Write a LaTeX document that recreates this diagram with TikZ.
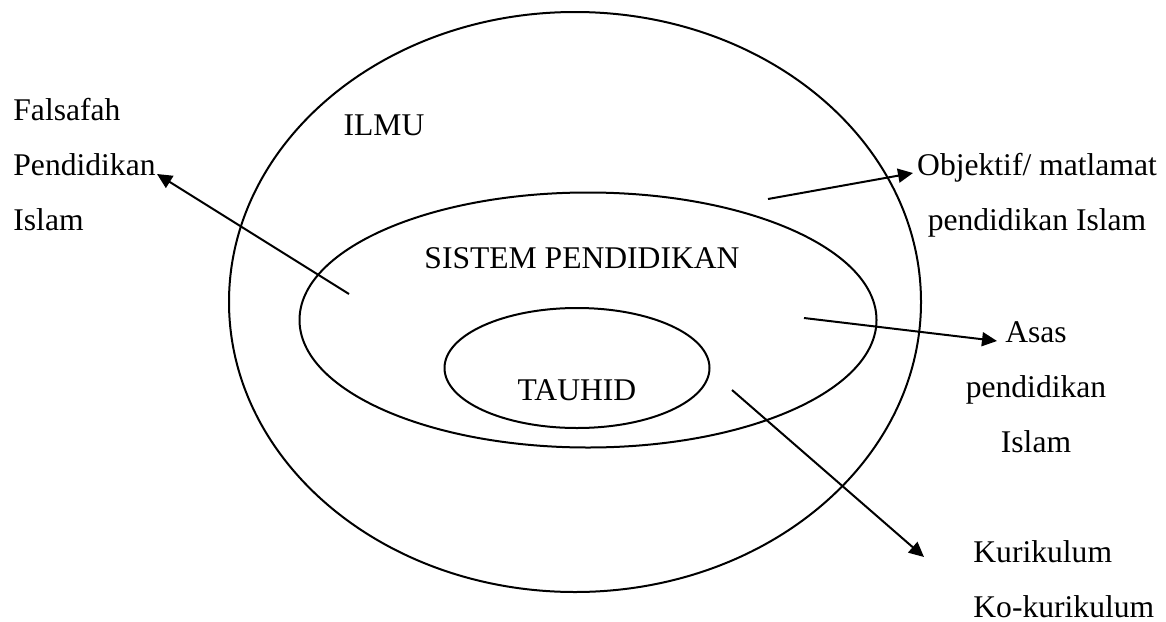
\documentclass[tikz,border=0pt]{standalone}
\usepackage{fontspec}
\setmainfont{Liberation Serif}
\usetikzlibrary{arrows.meta, positioning, shapes.geometric}

\begin{document}
\begin{tikzpicture}
    [x=0.5pt, y=-0.5pt,
     ring/.style={draw, ellipse, line width=1pt, inner sep=0pt},
     word/.style={inner sep=0pt, font=\fontsize{15.8}{27.5}\selectfont},
     pointer/.style={draw, line width=1pt, -{Triangle[length=7.5pt, width=7pt]}}]
    \useasboundingbox (0,0) rectangle (1166,621);

    % the three rings
    \node[ring, minimum width=346pt, minimum height=290pt] (ilmu) at (575,302) {};
    \node[ring, minimum width=288.5pt, minimum height=127.5pt] (sistem) at (588,320) {};
    \node[ring, minimum width=132.5pt, minimum height=60pt] (tauhid) at (577,368) {};

    \node[word, anchor=base] (ilmu label) at (384,135) {ILMU};
    \node[word, anchor=base] (sistem label) at (582,268) {SISTEM PENDIDIKAN};
    \node[word, anchor=base] (tauhid label) at (577,400) {TAUHID};

    % labels outside (base = last line)
    \node[word, anchor=base west, align=left] (falsafah) at (13,230) {Falsafah\\Pendidikan\\Islam};
    \node[word, anchor=base, align=center] (objektif) at (1037,230) {Objektif/ matlamat\\pendidikan Islam};
    \node[word, anchor=base, align=center] (asas) at (1036,452) {Asas\\pendidikan\\Islam};
    \node[word, anchor=base west, align=left] (kurikulum) at (973,617) {Kurikulum\\Ko-kurikulum};

    % arrows
    \coordinate (falsafah from) at (349,294);
    \coordinate (falsafah to) at (157,174);
    \coordinate (objektif from) at (768,199);
    \coordinate (objektif to) at (913,173);
    \coordinate (asas from) at (804,318);
    \coordinate (asas to) at (997,341);
    \coordinate (kurikulum from) at (732,390);
    \coordinate (kurikulum to) at (924,557);

    \draw[pointer] (falsafah from) -- (falsafah to);
    \draw[pointer] (objektif from) -- (objektif to);
    \draw[pointer] (asas from) -- (asas to);
    \draw[pointer] (kurikulum from) -- (kurikulum to);
\end{tikzpicture}
\end{document}
